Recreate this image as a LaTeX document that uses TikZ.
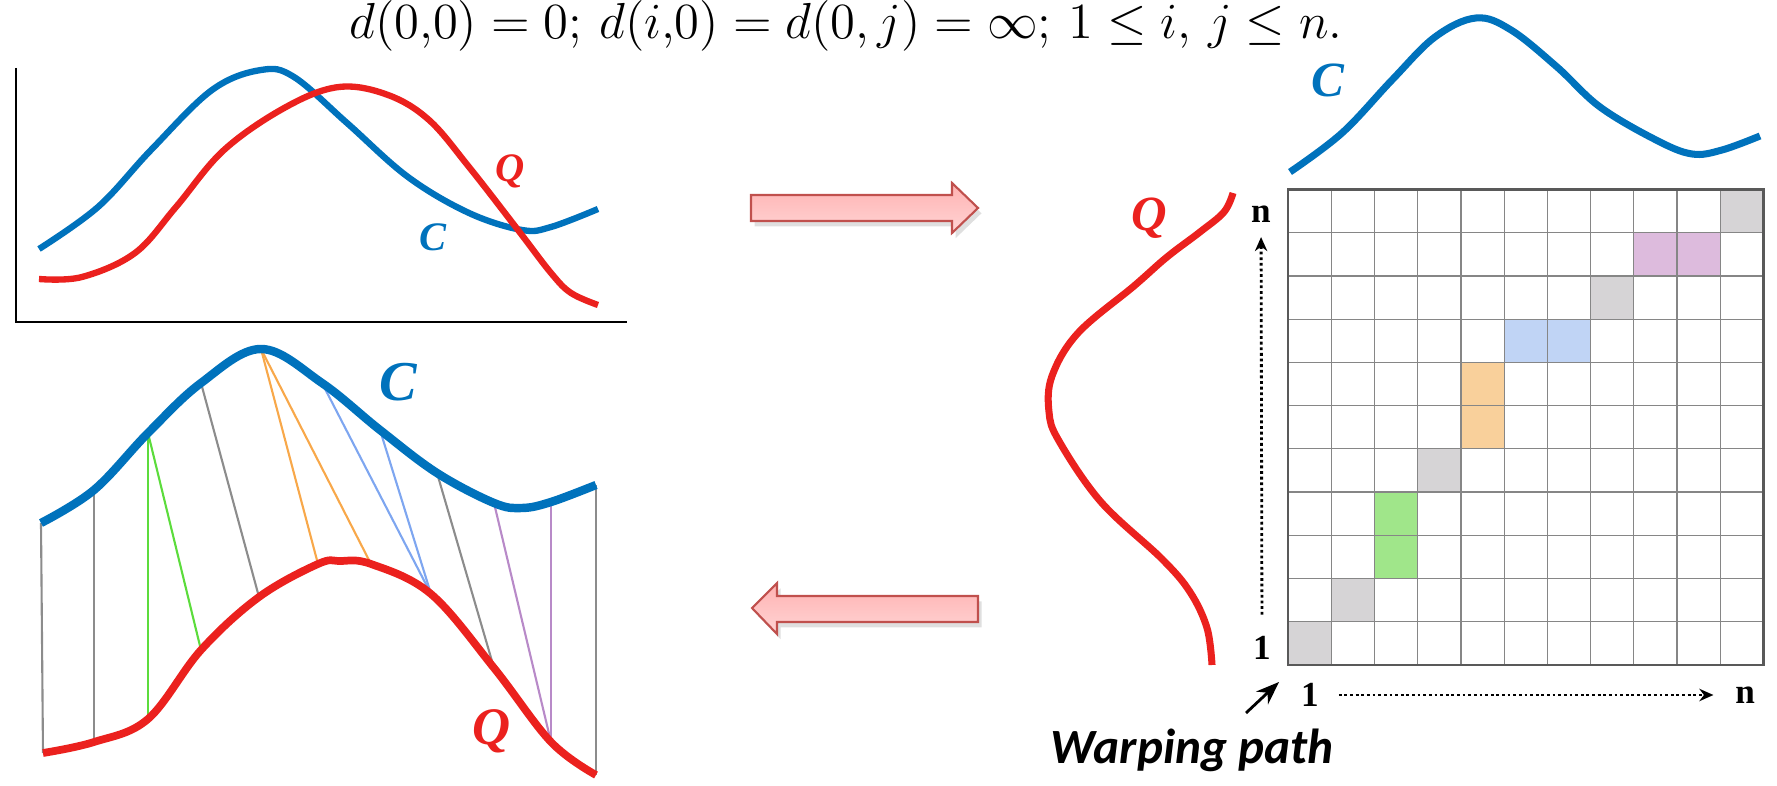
\documentclass[tikz,border=0pt]{standalone}
\usepackage{fontspec}
\usepackage{amsmath,amssymb}
\usetikzlibrary{positioning,arrows.meta,calc,shadows}
\newfontfamily\timesfont{Liberation Serif}
\newfontfamily\calibrifont{Carlito}
\definecolor{cblue}{RGB}{0,114,188}
\definecolor{qred}{RGB}{235,33,30}
\definecolor{linkgray}{RGB}{140,140,140}
\definecolor{linkgreen}{RGB}{92,220,60}
\definecolor{linkorange}{RGB}{248,168,74}
\definecolor{linkblue}{RGB}{126,166,240}
\definecolor{linkpurple}{RGB}{184,138,200}
\definecolor{cellgray}{RGB}{214,212,214}
\definecolor{cellgreen}{RGB}{160,230,138}
\definecolor{cellorange}{RGB}{249,208,155}
\definecolor{cellblue}{RGB}{192,212,245}
\definecolor{cellpurple}{RGB}{221,187,221}
\definecolor{arrowedge}{RGB}{192,80,77}

\begin{document}
\begin{tikzpicture}[
    x=0.01cm, y=-0.01cm,
    ccurve/.style={draw=cblue, line width=2pt},
    qcurve/.style={draw=qred, line width=2pt},
    clbl/.style={text=cblue, inner sep=0pt},
    qlbl/.style={text=qred, inner sep=0pt},
    link/.style={draw=#1, line width=0.6pt},
    axis/.style={draw=black, line width=0.6pt},
    bigarrow/.style={draw=arrowedge, line width=0.6pt, top color={rgb,255:red,255;green,178;blue,178},
      bottom color={rgb,255:red,255;green,212;blue,212}, drop shadow={opacity=0.25, shadow xshift=1pt, shadow yshift=-1.5pt}},
    idx/.style={font=\timesfont\bfseries\fontsize{10}{12}\selectfont, inner sep=0pt},
    gridline/.style={draw=gray!95, line width=0.35pt},
    dotarrow/.style={-{Stealth[length=4pt, width=3.5pt]}, line width=0.8pt, dash pattern=on 0.8pt off 0.8pt},
    >=Stealth
  ]
    \useasboundingbox (0,0) rectangle (1777,786);

    % distance definition
    \node[anchor=base, font=\fontsize{13.5}{16}\selectfont] (formula) at (846,39)
      {$d(0{,}0)=0;\, d(i{,}0)=d(0,j)=\infty;\, 1\le i,\, j\le n.$};

    % two series before alignment
    \draw[axis] (16,68) -- (16,322) -- (627,322);
    \draw[ccurve, line width=1.8pt] plot[smooth, tension=0.6] coordinates {(39,249) (98,207) (151,150) (212,90) (261,70) (294,77) (347,123) (408,177) (469,213) (522,230) (551,227) (598,209)};
    \draw[qcurve, line width=1.8pt] plot[smooth, tension=0.6] coordinates {(39,279) (82,277) (135,253) (176,207) (224,150) (286,107) (339,87) (388,95) (429,120) (469,167) (518,230) (551,273) (571,293) (598,305)};
    \node[qlbl, font=\timesfont\bfseries\itshape\fontsize{11.5}{13}\selectfont] (q_top) at (510,171) {Q};
    \node[clbl, font=\timesfont\bfseries\itshape\fontsize{11.5}{13}\selectfont] (c_top) at (433,237) {C};

    % aligned series with warping links
    \coordinate (c1) at (41,523);  \coordinate (c2) at (94,490);  \coordinate (c3) at (148,433);
    \coordinate (c4) at (201,383); \coordinate (c5) at (261,349); \coordinate (c6) at (322,383);
    \coordinate (c7) at (380,430); \coordinate (c8) at (437,473); \coordinate (c9) at (494,503);
    \coordinate (c10) at (522,508); \coordinate (c11) at (551,502); \coordinate (c12) at (596,485);
    \coordinate (q1) at (43,753);  \coordinate (q2) at (94,742);  \coordinate (q3) at (148,719);
    \coordinate (q4) at (201,650); \coordinate (q5) at (259,597); \coordinate (q6) at (318,564);
    \coordinate (q7) at (340,561); \coordinate (q8) at (371,564); \coordinate (q9) at (431,594);
    \coordinate (q10) at (494,668); \coordinate (q11) at (551,742); \coordinate (q12) at (596,775);

    \draw[link=linkgray] (c1) -- (q1);
    \draw[link=linkgray] (c2) -- (q2);
    \draw[link=linkgreen] (c3) -- (q3);
    \draw[link=linkgreen] (c3) -- (q4);
    \draw[link=linkgray] (c4) -- (q5);
    \draw[link=linkorange] (c5) -- (q6);
    \draw[link=linkorange] (c5) -- (q8);
    \draw[link=linkblue] (c6) -- (q9);
    \draw[link=linkblue] (c7) -- (q9);
    \draw[link=linkgray] (c8) -- (q10);
    \draw[link=linkpurple] (c9) -- (q11);
    \draw[link=linkpurple] (c11) -- (q11);
    \draw[link=linkgray] (c12) -- (q12);

    \draw[ccurve, line width=2.4pt] plot[smooth, tension=0.6] coordinates {(c1) (c2) (c3) (c4) (c5) (c6) (c7) (c8) (c9) (c10) (c11) (c12)};
    \draw[qcurve, line width=2.2pt] plot[smooth, tension=0.6] coordinates {(q1) (q2) (q3) (q4) (q5) (q6) (q7) (q8) (q9) (q10) (q11) (q12)};
    \node[clbl, font=\timesfont\bfseries\itshape\fontsize{16}{18}\selectfont] (c_bot) at (398,382) {C};
    \node[qlbl, font=\timesfont\bfseries\itshape\fontsize{15}{17}\selectfont] (q_bot) at (492,731) {Q};

    % block arrows
    \draw[bigarrow] (751,195) -- (952,195) -- (952,183) -- (978,208) -- (952,233) -- (952,221) -- (751,221) -- cycle;
    \draw[bigarrow] (978,596) -- (777,596) -- (777,583) -- (752,608) -- (777,634) -- (777,622) -- (978,622) -- cycle;

    % series along the matrix
    \draw[ccurve] plot[smooth, tension=0.6] coordinates {(1290,172) (1342,133) (1392,80) (1435,37) (1476,18) (1511,30) (1557,67) (1600,107) (1656,140) (1692,154) (1722,150) (1760,136)};
    \node[clbl, font=\timesfont\bfseries\itshape\fontsize{14}{16}\selectfont] (c_right) at (1328,80) {C};
    \draw[qcurve] plot[smooth, tension=0.6] coordinates {(1233,193) (1224,212) (1200,232) (1167,257) (1134,286) (1078,333) (1052,376) (1049,412) (1059,441) (1101,502) (1162,559) (1190,592) (1207,628) (1212,665)};
    \node[qlbl, font=\timesfont\bfseries\itshape\fontsize{14}{16}\selectfont] (q_right) at (1149,218) {Q};

    % cost matrix
    \begin{scope}[shift={(1288,665)}, x=0.432cm, y=0.432cm]
      \foreach \c/\r/\col in {1/1/cellgray, 2/2/cellgray, 3/3/cellgreen, 3/4/cellgreen, 4/5/cellgray,
          5/6/cellorange, 5/7/cellorange, 6/8/cellblue, 7/8/cellblue, 8/9/cellgray,
          9/10/cellpurple, 10/10/cellpurple, 11/11/cellgray}
        \fill[\col] (\c-1,\r-1) rectangle (\c,\r);
      \foreach \i in {1,...,10} {
        \draw[gridline] (\i,0) -- (\i,11);
        \draw[gridline] (0,\i) -- (11,\i);
      }
      \draw[black!65, line width=0.8pt] (0,0) rectangle (11,11);
    \end{scope}

    \node[idx] (n_left) at (1261,214) {n};
    \node[idx] (one_left) at (1262,648) {1};
    \node[idx] (one_bot) at (1310,695) {1};
    \node[idx] (n_bot) at (1745,695) {n};
    \draw[dotarrow, shorten <=6pt, shorten >=4pt] (one_left) -- (n_left);
    \draw[dotarrow, shorten <=5.5pt, shorten >=6pt] (one_bot) -- (n_bot);

    \node[font=\calibrifont\bfseries\itshape\fontsize{14}{16}\selectfont] (warp) at (1192,750) {Warping path};
    \coordinate (w_tail) at (1246,713);
    \coordinate (w_head) at (1279,682);
    \draw[->, line width=0.8pt] (w_tail) -- (w_head);
  \end{tikzpicture}
\end{document}
